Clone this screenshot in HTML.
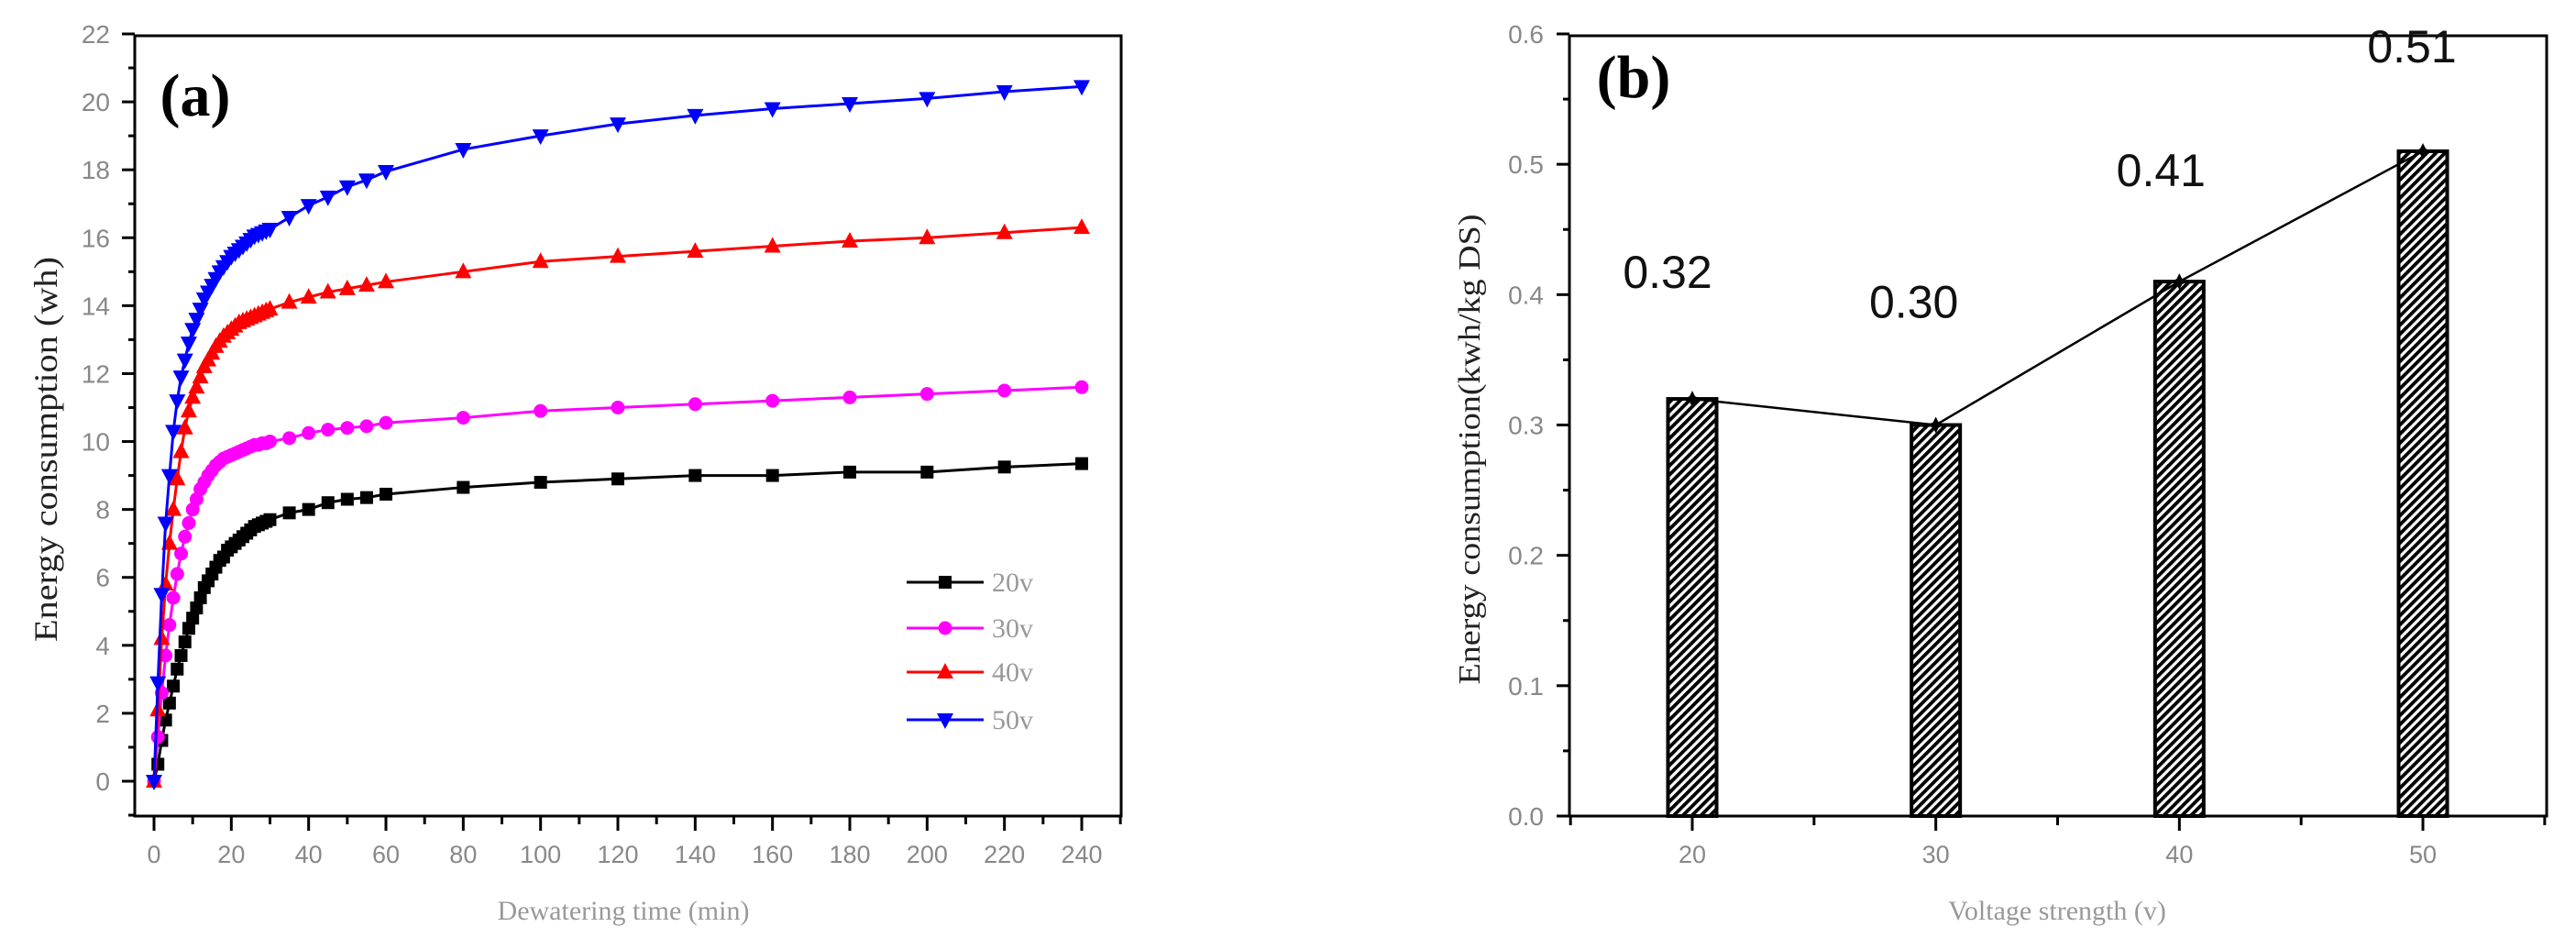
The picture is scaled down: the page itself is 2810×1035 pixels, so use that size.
<!DOCTYPE html>
<html><head><meta charset="utf-8"><style>
html,body{margin:0;padding:0;background:#fff;overflow:hidden;}
svg{display:block;font-family:"Liberation Serif",serif;}
</style></head><body>
<svg id="chart" width="2810" height="1035" viewBox="0 0 2810 1035" xmlns="http://www.w3.org/2000/svg">
<defs>
<pattern id="hatch" width="7" height="7" patternUnits="userSpaceOnUse" patternTransform="rotate(45)">
<rect width="7" height="7" fill="#fff"/><rect width="3.8" height="7" fill="#000"/>
</pattern>
</defs>
<g id="pa"></g>
<g id="pb"></g>
</svg>
<script>
// Panel (a) data
const timesA = [0,1,2,3,4,5,6,7,8,9,10,11,12,13,14,15,16,17,18,19,20,21,22,23,24,25,26,27,28,29,30,35,40,45,50,55,60,80,100,120,140,160,180,200,220,240];
const v20 = [0,0.5,1.2,1.8,2.3,2.8,3.3,3.7,4.1,4.5,4.8,5.1,5.4,5.7,5.9,6.1,6.3,6.5,6.6,6.8,6.9,7.0,7.1,7.2,7.3,7.4,7.5,7.55,7.6,7.65,7.7,7.9,8.0,8.2,8.3,8.35,8.45,8.65,8.8,8.9,9.0,9.0,9.1,9.1,9.25,9.35];
const v30 = [0,1.3,2.6,3.7,4.6,5.4,6.1,6.7,7.2,7.6,8.0,8.3,8.6,8.8,9.0,9.15,9.3,9.4,9.5,9.55,9.6,9.65,9.7,9.75,9.8,9.85,9.9,9.9,9.95,9.95,10.0,10.1,10.25,10.35,10.4,10.45,10.55,10.7,10.9,11.0,11.1,11.2,11.3,11.4,11.5,11.6];
const v40 = [0,2.1,4.2,5.8,7.0,8.0,8.9,9.7,10.4,10.9,11.3,11.6,11.9,12.2,12.4,12.6,12.8,12.95,13.1,13.2,13.3,13.4,13.5,13.55,13.6,13.65,13.7,13.75,13.8,13.85,13.9,14.1,14.25,14.4,14.5,14.6,14.7,15.0,15.3,15.45,15.6,15.75,15.9,16.0,16.15,16.3];
const v50 = [0,2.9,5.5,7.6,9.0,10.3,11.2,11.9,12.4,12.9,13.3,13.6,13.9,14.2,14.4,14.6,14.8,15.0,15.15,15.3,15.45,15.55,15.65,15.75,15.85,15.95,16.05,16.1,16.15,16.2,16.25,16.6,16.95,17.2,17.5,17.7,17.95,18.6,19.0,19.35,19.6,19.8,19.95,20.1,20.3,20.45];
const seriesNames = ["20v","30v","40v","50v"];
const xTicksA = [0,20,40,60,80,100,120,140,160,180,200,220,240];
const yTicksA = [0,2,4,6,8,10,12,14,16,18,20,22];
// Panel (b) data
const voltages = [20,30,40,50];
const energyB = [0.32,0.30,0.41,0.51];
const labelsB = ["0.32","0.30","0.41","0.51"];
const xTicksB = [20,30,40,50];
const yTicksB = [0.0,0.1,0.2,0.3,0.4,0.5,0.6];

const NS="http://www.w3.org/2000/svg";
function mk(tag,attrs,parent,text){const e=document.createElementNS(NS,tag);for(const k in attrs)e.setAttribute(k,attrs[k]);if(text!==undefined)e.textContent=text;parent.appendChild(e);return e;}
const SANS="Liberation Sans, sans-serif";

// ---------- Panel A ----------
const pa=document.getElementById('pa');
const AL=147,AR=1223,AT=39,AB=890;
const ax=t=>168+t*(1180-168)/240;
const ay=v=>852-v*(852-37)/22;
let e;
e=mk('rect',{x:AL,y:AT,width:AR-AL,height:AB-AT,fill:'none',stroke:'#000','stroke-width':3},pa);


for(let t=0;t<=250;t+=10){const X=ax(t);if(X>AR)break;e=mk('line',{x1:X,y1:AB,x2:X,y2:AB+(t%20===0?16:9),stroke:'#000','stroke-width':3},pa);

}
xTicksA.forEach(t=>{e=mk('text',{x:ax(t),y:941,'font-size':27,fill:'#888','text-anchor':'middle','font-family':SANS},pa,String(t));

});
for(let v=-1;v<=22;v+=1){const Y=ay(v);if(Y>AB)continue;e=mk('line',{x1:AL,y1:Y,x2:AL-(v%2===0?14:7),y2:Y,stroke:'#000','stroke-width':3},pa);

}
yTicksA.forEach(v=>{e=mk('text',{x:120,y:ay(v)+10,'font-size':28,fill:'#888','text-anchor':'end','font-family':SANS},pa,String(v));

});
e=mk('text',{x:680,y:1003,'font-size':30,fill:'#999','text-anchor':'middle'},pa,'Dewatering time (min)');


e=mk('text',{x:0,y:0,'font-size':36,fill:'#222','text-anchor':'middle',textLength:420,lengthAdjust:'spacingAndGlyphs',transform:'translate(62,490) rotate(-90)'},pa,'Energy consumption (wh)');


e=mk('text',{x:213,y:126,'font-size':66,'font-weight':'bold',fill:'#000','text-anchor':'middle'},pa,'(a)');



const colors=['#000','#ff00ff','#ff0000','#0000ff'];
const allSeries=[v20,v30,v40,v50];
function marker(k,X,Y,g){const s=7;let m;
 if(k===0)m=mk('rect',{x:X-s,y:Y-s,width:2*s,height:2*s,fill:colors[k]},g);
 else if(k===1)m=mk('circle',{cx:X,cy:Y,r:s+0.5,fill:colors[k]},g);
 else if(k===2)m=mk('polygon',{points:`${X},${Y-s-3} ${X+s+2},${Y+s} ${X-s-2},${Y+s}`,fill:colors[k]},g);
 else m=mk('polygon',{points:`${X-s-2},${Y-s} ${X+s+2},${Y-s} ${X},${Y+s+3}`,fill:colors[k]},g);
 return m;}
allSeries.forEach((vals,k)=>{
 const g=mk('g',{},pa);
 
 
 const pts=vals.map((v,i)=>ax(timesA[i])+','+ay(v)).join(' ');
 e=mk('polyline',{points:pts,fill:'none',stroke:colors[k],'stroke-width':3},g);
 
 
 vals.forEach((v,i)=>{const m=marker(k,ax(timesA[i]),ay(v),g);
  
  });
});
const legY=[635,685,733,785];
seriesNames.forEach((n,k)=>{
 const g=mk('g',{},pa);
 
 
 mk('line',{x1:989,y1:legY[k],x2:1073,y2:legY[k],stroke:colors[k],'stroke-width':3},g);
 marker(k,1031,legY[k],g);
 mk('text',{x:1082,y:legY[k]+10,'font-size':30,fill:'#999'},g,n);
});

// ---------- Panel B ----------
const pb=document.getElementById('pb');
const BL=1712,BR=2778,BT=39,BB=890;
const bx=v=>1846+(v-20)*(2643-1846)/30;
const by=v=>BB-v*(BB-37)/0.6;
e=mk('rect',{x:BL,y:BT,width:BR-BL,height:BB-BT,fill:'none',stroke:'#000','stroke-width':3},pb);


for(let v=15;v<=55;v+=5){e=mk('line',{x1:bx(v),y1:BB,x2:bx(v),y2:BB+(v%10===0?16:10),stroke:'#000','stroke-width':3},pb);

}
xTicksB.forEach(v=>{e=mk('text',{x:bx(v),y:941,'font-size':27,fill:'#888','text-anchor':'middle','font-family':SANS},pb,String(v));

});
for(let i=0;i<=12;i++){const v=i*0.05;e=mk('line',{x1:BL,y1:by(v),x2:BL-(i%2===0?14:7),y2:by(v),stroke:'#000','stroke-width':3},pb);

}
yTicksB.forEach(v=>{e=mk('text',{x:1684,y:by(v)+10,'font-size':28,fill:'#888','text-anchor':'end','font-family':SANS},pb,v.toFixed(1));

});
e=mk('text',{x:2244,y:1003,'font-size':30,fill:'#999','text-anchor':'middle'},pb,'Voltage strength (v)');


e=mk('text',{x:0,y:0,'font-size':34,fill:'#222','text-anchor':'middle',textLength:513,lengthAdjust:'spacingAndGlyphs',transform:'translate(1614,490) rotate(-90)'},pb,'Energy consumption(kwh/kg DS)');


e=mk('text',{x:1782,y:106,'font-size':66,'font-weight':'bold',fill:'#000','text-anchor':'middle'},pb,'(b)');


const bw=53;
voltages.forEach((v,i)=>{
 e=mk('rect',{x:bx(v)-bw/2,y:by(energyB[i]),width:bw,height:BB-by(energyB[i]),fill:'url(#hatch)',stroke:'#000','stroke-width':4},pb);
 
 
});
e=mk('polyline',{points:voltages.map((v,i)=>bx(v)+','+by(energyB[i])).join(' '),fill:'none',stroke:'#000','stroke-width':2.5},pb);


voltages.forEach((v,i)=>{
 const X=bx(v),Y=by(energyB[i]);
 e=mk('polygon',{points:`${X},${Y-9} ${X+3},${Y-3} ${X+9},${Y} ${X+3},${Y+3} ${X},${Y+9} ${X-3},${Y+3} ${X-9},${Y} ${X-3},${Y-3}`,fill:'#000'},pb);
 
 
});
const labX=[-27,-24,-20,-12];
const labOff=[-139,-135,-122,-115];
voltages.forEach((v,i)=>{
 e=mk('text',{x:bx(v)+labX[i],y:by(energyB[i])+labOff[i]+18,'font-size':50,fill:'#111','text-anchor':'middle','font-family':SANS},pb,labelsB[i]);
 
 
});
</script>
</body></html>
